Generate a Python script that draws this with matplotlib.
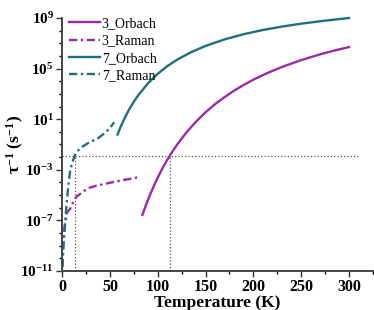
import matplotlib
matplotlib.use("Agg")
import matplotlib.pyplot as plt
from matplotlib.ticker import NullFormatter
import numpy as np

plt.rcParams['font.family'] = 'Liberation Serif'
plt.rcParams['mathtext.fontset'] = 'custom'
plt.rcParams['mathtext.rm'] = 'Liberation Serif'
plt.rcParams['mathtext.it'] = 'Liberation Serif:italic'
plt.rcParams['mathtext.bf'] = 'Liberation Serif:bold'

# dados (log10 de tau^-1)
t_orb3 = [84, 88, 92, 96, 100, 105, 110, 115, 120, 130, 140, 150, 160, 170, 180,
          190, 200, 215, 230, 250, 270, 285, 300]
log_orb3 = [-6.57, -5.73, -4.97, -4.27, -3.62, -2.88, -2.21, -1.60, -1.04, -0.05, 0.80,
            1.54, 2.19, 2.75, 3.26, 3.71, 4.12, 4.66, 5.13, 5.67, 6.13, 6.43, 6.70]

t_ram3 = [0.3, 1.4, 3, 5, 8.3, 12, 15.2, 20, 27, 35, 44.5, 55, 65, 75, 81]
log_ram3 = [-10.7, -8.3, -7.3, -6.4, -6.1, -5.5, -5.12, -4.85, -4.46, -4.28, -4.12,
            -3.95, -3.8, -3.67, -3.55]

t_orb7 = [58, 61, 65, 70, 75, 80, 90, 100, 110, 120, 135, 150, 170, 190, 210, 230,
          250, 275, 300]
log_orb7 = [-0.21, 0.36, 1.02, 1.75, 2.38, 2.93, 3.85, 4.59, 5.19, 5.69, 6.30, 6.79,
            7.31, 7.72, 8.05, 8.32, 8.55, 8.79, 9.0]

t_ram7 = [0.3, 1.4, 3, 4.8, 6.5, 8.3, 10, 13.4, 18.6, 27, 37.5, 44.5, 50, 54.5]
log_ram7 = [-10.7, -9.1, -7.4, -5.65, -4.3, -3.15, -2.6, -1.83, -1.3, -0.9, -0.51,
            -0.11, 0.3, 0.75]

cross_level = -1.9
cross_t = [13.4, 112.5]

purple = '#9A2BA3'
teal = '#1F6F80'
dashdot = (0, (3.5, 1.5, 1, 1.5))

fig = plt.figure(figsize=(3.74, 3.10), dpi=100)
ax = fig.add_axes([0.166, 0.126, 0.831, 0.816])

# linhas de referência
ax.plot([0, 310], [10**cross_level] * 2, ':', color='#555555', lw=0.9)
for tc in cross_t:
    ax.plot([tc, tc], [1e-11, 10**cross_level], ':', color='#555555', lw=0.9)

ax.plot(t_orb3, 10**np.array(log_orb3), color=purple, lw=1.7, label='3_Orbach')
ax.plot(t_ram3, 10**np.array(log_ram3), color=purple, lw=1.7, ls=dashdot, label='3_Raman')
ax.plot(t_orb7, 10**np.array(log_orb7), color=teal, lw=1.7, label='7_Orbach', clip_on=False)
ax.plot(t_ram7, 10**np.array(log_ram7), color=teal, lw=1.7, ls=dashdot, label='7_Raman')

ax.set_yscale('log')
ax.set_xlim(0, 322)
ax.set_ylim(1e-11, 1e9)

major = [1e-11, 1e-7, 1e-3, 1e1, 1e5, 1e9]
ax.set_yticks(major)
ax.set_yticklabels([r'$\mathbf{10^{%d}}$' % int(np.log10(v)) for v in major])
ax.set_yticks([10.0**k for k in range(-11, 10)], minor=True)
ax.yaxis.set_minor_formatter(NullFormatter())
ax.set_xticks([0, 50, 100, 150, 200, 250, 300])
ax.set_xticks([25, 75, 125, 175, 225, 275, 325], minor=True)
for lab in ax.get_xticklabels():
    lab.set_fontweight('bold')
ax.tick_params(labelsize=11.5, width=1.0, length=4, direction='out', color='#333333', pad=2)
ax.tick_params(axis='y', labelsize=11)
ax.tick_params(which='minor', length=2.5, width=1.0)

for s in ['top', 'right']:
    ax.spines[s].set_visible(False)
for s in ['left', 'bottom']:
    ax.spines[s].set_linewidth(1.4)
    ax.spines[s].set_color('#444444')

ax.set_xlabel('Temperature (K)', fontsize=12.5, fontweight='bold', labelpad=0)
ax.set_ylabel(r'$\mathbf{\tau^{-1}}$ $\mathbf{(s^{-1})}$', fontsize=12.5)
ax.yaxis.set_label_coords(-0.115, 0.5)

ax.legend(loc='upper left', frameon=False, fontsize=10, handlelength=2.2,
          handletextpad=0.15, labelspacing=0.3, borderaxespad=0.1,
          bbox_to_anchor=(0.0, 1.03))

fig.savefig('out.png', dpi=100)
